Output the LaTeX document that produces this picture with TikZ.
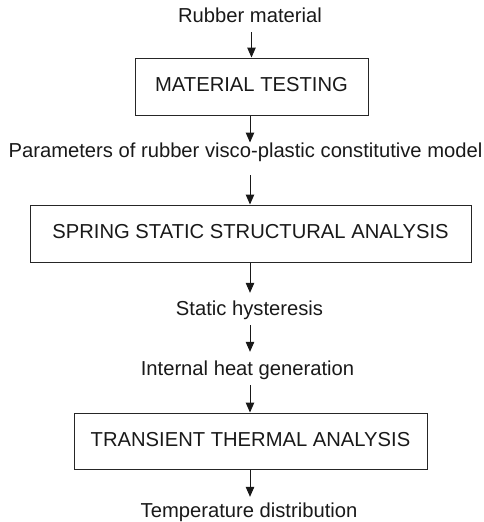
\documentclass[tikz,border=0pt]{standalone}
\usepackage{fontspec}
\setmainfont{Liberation Sans}
\usetikzlibrary{arrows.meta}
\tikzset{
  lbl/.style={inner sep=0pt, anchor=base, text height=14.3pt, text depth=4.2pt,
    font=\fontsize{20.2}{24}\selectfont, text=black!90},
  stage/.style={draw=black!85, line width=1pt, inner sep=0pt, text height=14.3pt, text depth=4pt,
    font=\fontsize{20.2}{24}\selectfont, text=black!90},
  arr/.style={draw=black!90, line width=1pt, -{Triangle[length=10pt,width=8.5pt]}}
}
\begin{document}
\begin{tikzpicture}[x=1pt,y=-1pt]
\useasboundingbox (0,0) rectangle (484,522);
\node[lbl] (t1) at (250,23) {Rubber material};
\node[stage, minimum width=233pt, minimum height=57pt] (b1) at (251.5,86.5) {MATERIAL TESTING};
\node[lbl] (t2) at (245.5,157) {Parameters of rubber visco-plastic constitutive model};
\node[stage, minimum width=441pt, minimum height=57pt] (b2) at (250.5,233.5) {SPRING STATIC STRUCTURAL ANALYSIS};
\node[lbl] (t3) at (249.5,315) {Static hysteresis};
\node[lbl] (t4) at (247.5,375) {Internal heat generation};
\node[stage, minimum width=353pt, minimum height=56pt] (b3) at (250.5,441) {TRANSIENT THERMAL ANALYSIS};
\node[lbl] (t5) at (249,517) {Temperature distribution};

\draw[arr, shorten <=4.8pt] (t1.south -| b1.north) -- (b1.north);
\draw[arr] (b1.south -| 250,0) -- (t2.north -| 250,0);
\draw[arr, shorten <=14pt] (t2.south -| 250,0) -- (b2.north -| 250,0);
\draw[arr, shorten >=7.7pt] (b2.south -| 250,0) -- (t3.north -| 250,0);
\draw[arr, shorten <=6pt, shorten >=8.7pt] (t3.south -| 250,0) -- (t4.north -| 250,0);
\draw[arr, shorten <=5.8pt] (t4.south -| 250,0) -- (b3.north -| 250,0);
\draw[arr, shorten >=5.7pt] (b3.south -| 250,0) -- (t5.north -| 250,0);
\end{tikzpicture}
\end{document}
